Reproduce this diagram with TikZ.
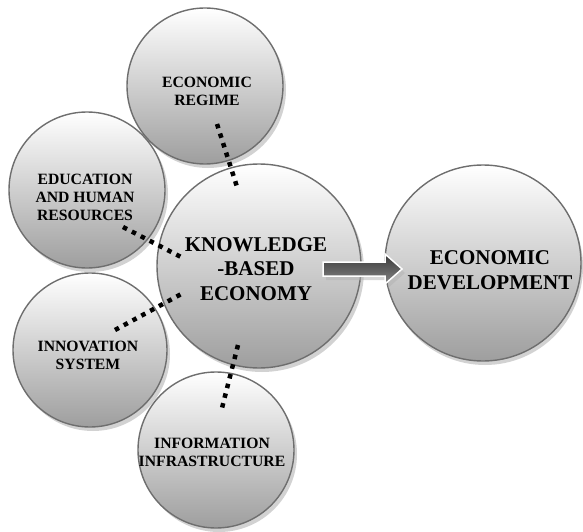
\documentclass[tikz,border=0pt]{standalone}
\usepackage{fontspec}
\setmainfont{Liberation Serif}
\usetikzlibrary{calc}
\definecolor{rimgray}{HTML}{6E6E6E}
\tikzset{
  bub/.style={circle, draw=rimgray, line width=1.4pt, top color=white, middle color=black!11, bottom color=black!38, inner sep=0pt},
  shad/.style={circle, fill=black!35, opacity=0.5, inner sep=0pt},
  smalltxt/.style={align=center, font=\bfseries\fontsize{15.7}{18}\selectfont, inner sep=0pt},
  bigtxt/.style={align=center, font=\bfseries\fontsize{21}{24.5}\selectfont, inner sep=0pt},
  dotline/.style={line width=4.5pt, dash pattern=on 4.5pt off 5.5pt, line cap=butt},
  arrowbody/.style={draw=white, line width=1.5pt, top color=black!78, bottom color=black!48}
}
\begin{document}
\begin{tikzpicture}[x=1pt,y=-1pt]
\useasboundingbox (0,0) rectangle (583,532);
% shadows and circles
\node[shad, minimum size=156pt] (regs) at (208,90) {};
\node[bub, minimum size=156pt] (reg) at (205,86) {};
\node[shad, minimum size=156pt] (edus) at (90,194) {};
\node[bub, minimum size=156pt] (edu) at (87,190) {};
\node[shad, minimum size=154pt] (inns) at (93,354) {};
\node[bub, minimum size=154pt] (inn) at (90,350) {};
\node[shad, minimum size=156pt] (infs) at (219,454) {};
\node[bub, minimum size=156pt] (inf) at (216,450) {};
\node[shad, minimum size=204pt] (kbes) at (262,270) {};
\node[bub, minimum size=204pt] (kbe) at (259,266) {};
\node[shad, minimum size=196pt] (eds) at (485,267) {};
\node[bub, minimum size=196pt] (ed) at (483,263) {};
% texts
\node[smalltxt] (regt) at ($(reg)+(2,5)$) {ECONOMIC\\REGIME};
\node[smalltxt] (edut) at ($(edu)+(-2,7)$) {EDUCATION\\AND HUMAN\\RESOURCES};
\node[smalltxt] (innt) at ($(inn)+(-2,5)$) {INNOVATION\\SYSTEM};
\node[smalltxt] (inft) at ($(inf)+(-4,2)$) {INFORMATION\\INFRASTRUCTURE};
\node[bigtxt] (kbet) at ($(kbe)+(-3,3)$) {KNOWLEDGE\\-BASED\\ECONOMY};
\node[bigtxt] (edt) at ($(ed)+(7,7)$) {ECONOMIC\\DEVELOPMENT};
% dotted connectors
\coordinate (d1a) at (217,124); \coordinate (d1b) at (238,190);
\coordinate (d2a) at (123,227); \coordinate (d2b) at (183,258);
\coordinate (d3a) at (115,330); \coordinate (d3b) at (185,292);
\coordinate (d4a) at (238,345); \coordinate (d4b) at (222,408);
\draw[dotline] (d1a) -- (d1b);
\draw[dotline] (d2a) -- (d2b);
\draw[dotline] (d3a) -- (d3b);
\draw[dotline] (d4a) -- (d4b);
% arrow
\coordinate (as) at (323,269);
\fill[black!30, opacity=0.5] ($(as)+(3,4)$) ++(0,-7) -- ++(62,0) -- ++(0,-8) -- ++(17,15) -- ++(-17,15) -- ++(0,-8) -- ++(-62,0) -- cycle;
\path[arrowbody] (as) ++(0,-7) -- ++(62,0) -- ++(0,-8) -- ++(17,15) -- ++(-17,15) -- ++(0,-8) -- ++(-62,0) -- cycle;
\end{tikzpicture}
\end{document}
